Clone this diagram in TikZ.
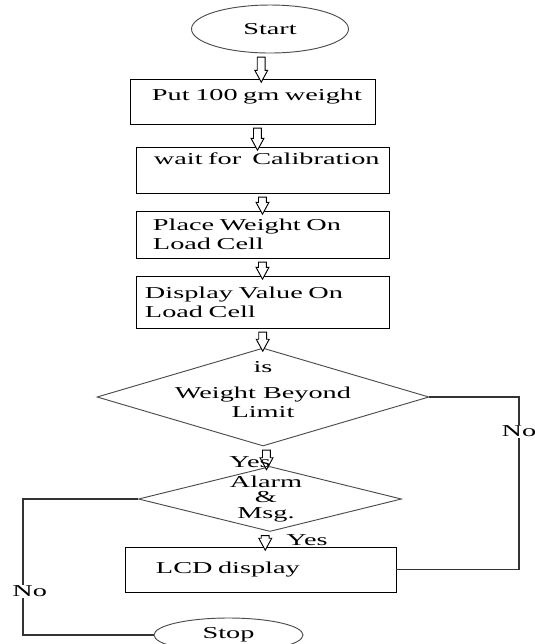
\documentclass[tikz,border=0pt]{standalone}
\usepackage{fontspec}
\setmainfont[FakeStretch=1.7]{Liberation Serif}
\usetikzlibrary{shapes.geometric,shapes.arrows,calc}

\tikzset{
  box/.style={draw,rectangle,thin,inner xsep=0.3mm,inner ysep=0pt,align=left},
  oval/.style={draw=black!70,ellipse,inner sep=0pt},
  decision/.style={draw=black!70,diamond,inner sep=0pt},
  hollow/.style={draw,thin,fill=white,single arrow,rotate=-90,inner sep=0pt,
    inner ysep=0.525mm,single arrow head extend=0.375mm,single arrow tip angle=57},
  flow/.style={semithick,draw=black!80},
  lbl/.style={fill=white,inner sep=0.5pt}
}
% hollow down arrow from one node to the next
\newcommand\hollowdown[2]{%
  \path let \p1=(#1.south), \p2=(#2.north) in
    node[hollow,minimum height={\y1-\y2}] at ($(\p1)!0.5!(\p2)$) {};}

\begin{document}
\begin{tikzpicture}[x=0.15mm,y=-0.15mm,font=\fontsize{7.1}{8.2}\selectfont]
\useasboundingbox (0,0) rectangle (535,644);

\node[oval,minimum width=23.55mm,minimum height=7.2mm] (start) at (270,29) {Start};
\node[box,minimum width=36.75mm,minimum height=6.75mm,text width=36.15mm,text depth=6.2pt] (put) at (252.5,101.5) {\hspace*{3mm}Put 100 gm weight};
\node[box,minimum width=37.95mm,minimum height=6.9mm,text width=37.35mm,text depth=10pt] (wait) at (262.5,170) {\hspace*{2.4mm}wait for\ \ Calibration};
\node[box,minimum width=37.95mm,minimum height=7.05mm,text width=37.35mm] (place) at (262.5,234.5) {\hspace*{2.25mm}Place Weight On\\\hspace*{2.25mm}Load Cell};
\node[box,minimum width=37.95mm,minimum height=7.8mm,text width=37.35mm] (display) at (262.5,302) {\hspace*{1.05mm}Display Value On\\\hspace*{1.05mm}Load Cell};

\node[decision,minimum width=49.8mm,minimum height=14.7mm,
  label={[align=center,yshift=1.1mm]center:is\\[2.5pt]Weight Beyond\\Limit}] (limit) at (263,397) {};
\node[decision,minimum width=39.45mm,minimum height=9.75mm,
  label={[align=center,xshift=-0.6mm]center:Alarm\\[-1.6pt]\&\\[-1.6pt]Msg.}] (alarm) at (270,499) {};

\node[box,minimum width=40.65mm,minimum height=6.75mm,text width=40.05mm] (lcd) at (260.5,569.5) {\hspace*{4.35mm}LCD display};
\node[oval,minimum width=22.35mm,minimum height=5.1mm] (stop) at (228.5,635) {Stop};

\hollowdown{start}{put}
\hollowdown{put}{wait}
\hollowdown{wait}{place}
\hollowdown{place}{display}
\hollowdown{display}{limit}
\hollowdown{limit}{alarm}
\hollowdown{alarm}{lcd}

\node (yes1) at (250,462) {Yes};
\node (yes2) at (307,540) {Yes};

\coordinate (rt) at (519,0);
\coordinate (lf) at (23,0);
\draw[flow] (limit.east) -| node[lbl,pos=0.6]{No} (lcd.east -| rt) -- (lcd.east);
\draw[flow] (alarm.west) -| node[lbl,pos=0.84,xshift=1mm]{No} (stop.west -| lf) -- (stop.west);
\end{tikzpicture}
\end{document}
